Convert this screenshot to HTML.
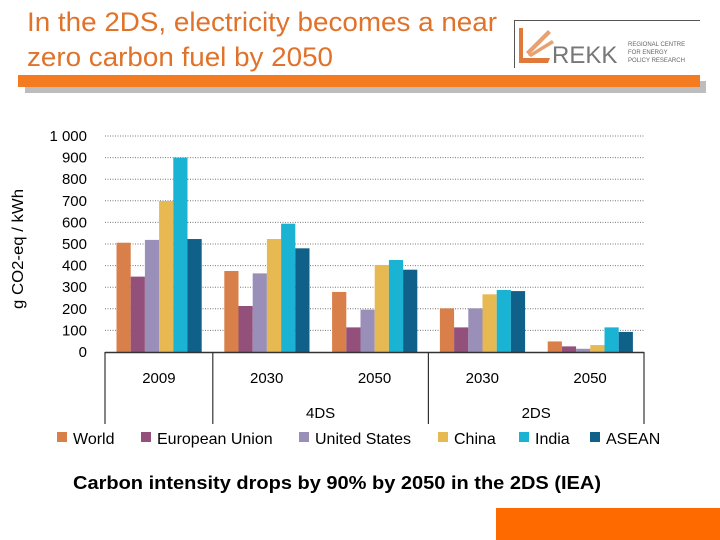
<!DOCTYPE html>
<html><head><meta charset="utf-8"><style>
html,body{margin:0;padding:0;background:#fff;}
body{width:720px;height:540px;position:relative;overflow:hidden;font-family:"Liberation Sans",sans-serif;}
svg{position:absolute;left:0;top:0;}
</style></head><body>
<svg width="720" height="540" viewBox="0 0 720 540">
<text x="27" y="31" font-size="27" fill="#e0722a" textLength="470" lengthAdjust="spacingAndGlyphs">In the 2DS, electricity becomes a near</text>
<text x="27" y="66" font-size="27" fill="#e0722a" textLength="306" lengthAdjust="spacingAndGlyphs">zero carbon fuel by 2050</text>
<g>
<line x1="514.5" y1="20" x2="514.5" y2="68" stroke="#555" stroke-width="1"/>
<line x1="514" y1="20.5" x2="700" y2="20.5" stroke="#555" stroke-width="1"/>
<path d="M519 28 L523 28 L523 58 L550 58 L548 63 L519 63 Z" fill="#e07a3a"/>
<path d="M526 52 L548 30 L551 33 L529 55 Z" fill="#e9a070"/>
<path d="M528 55 L552 40 L554 43 L531 57 Z" fill="#e9a070"/>
<text x="552" y="63" font-size="24" fill="#777">REKK</text>
<text x="628" y="46" font-size="6" fill="#666">REGIONAL CENTRE</text>
<text x="628" y="54" font-size="6" fill="#666">FOR ENERGY</text>
<text x="628" y="62" font-size="6" fill="#666">POLICY RESEARCH</text>
</g>
<rect x="25" y="81" width="681" height="12" fill="#bdbdbd"/>
<rect x="18" y="75" width="682" height="12" fill="#f47b20"/>
<g id="chart"></g>
<text x="73" y="489" font-size="18" font-weight="bold" fill="#000" textLength="528" lengthAdjust="spacingAndGlyphs">Carbon intensity drops by 90% by 2050 in the 2DS (IEA)</text>
<rect x="496" y="508" width="224" height="32" fill="#ff6a00"/>
</svg>
<script>
const categories = ["2009","2030","2050","2030","2050"];
const seriesNames = ["World","European Union","United States","China","India","ASEAN"];
const world = [506,375,278,202,49];
const eu = [349,213,114,114,26];
const us = [519,364,196,202,15];
const china = [699,523,403,267,32];
const india = [900,594,426,287,114];
const asean = [523,480,381,282,93];
const yTicks = [0,100,200,300,400,500,600,700,800,900,1000];
const yTickLabels = ["0","100","200","300","400","500","600","700","800","900","1 000"];
const scenarios = ["4DS","2DS"];

const NS="http://www.w3.org/2000/svg";
const colors=["#d9804a","#93507a","#9a8fb8","#e6b952","#1ab3d3","#0f6189"];
const series=[world,eu,us,china,india,asean];
const g=document.getElementById('chart');
const X0=105,X1=644,Y0=352,Y1=136;
const band=(X1-X0)/categories.length;
const barW=14.2, off=11.5;
function y(v){return Y0-(v/1000)*(Y0-Y1);}
function xBar(c,s){return X0+c*band+off+s*barW;}
function mk(tag,attrs){const e=document.createElementNS(NS,tag);for(const k in attrs)e.setAttribute(k,attrs[k]);g.appendChild(e);return e;}
yTicks.forEach((t,i)=>{
  if(t>0){const l=mk('line',{x1:X0,x2:X1,y1:y(t),y2:y(t),stroke:'#777','stroke-width':1,'stroke-dasharray':'1,1.5'});
  
  }
  const tx=mk('text',{x:87,y:y(t)+5,'font-size':15,'text-anchor':'end',fill:'#000'});
  tx.textContent=yTickLabels[i];
  
  
});
const yt=mk('text',{x:0,y:0,'font-size':16,'text-anchor':'middle',fill:'#000',transform:'translate(23,249) rotate(-90)',textLength:120,lengthAdjust:'spacingAndGlyphs'});
yt.textContent='g CO2-eq / kWh';


series.forEach((arr,s)=>{arr.forEach((v,c)=>{
  const r=mk('rect',{x:xBar(c,s),y:y(v),width:barW,height:Y0-y(v),fill:colors[s]});
  
  
});});
const ax=mk('line',{x1:X0,x2:X1,y1:Y0+0.5,y2:Y0+0.5,stroke:'#333','stroke-width':1.5});


[0,1,3,5].forEach(i=>{const l=mk('line',{x1:X0+i*band,x2:X0+i*band,y1:Y0,y2:424,stroke:'#333','stroke-width':1.2});
  
  });
categories.forEach((c,i)=>{const t=mk('text',{x:X0+(i+0.5)*band,y:383,'font-size':15,'text-anchor':'middle',fill:'#000'});
  t.textContent=c;
  
  });
scenarios.forEach((s,i)=>{const t=mk('text',{x:X0+(1+i*2+1)*band,y:418,'font-size':15,'text-anchor':'middle',fill:'#000'});
  t.textContent=s;
  
  });
const legX=[57,141,299,438,519,590];
seriesNames.forEach((n,i)=>{
  const r=mk('rect',{x:legX[i],y:432,width:10,height:10,fill:colors[i]});
  
  
  const t=mk('text',{x:legX[i]+16,y:444,'font-size':16,fill:'#000'});
  t.textContent=n;
  
  
});
</script>
</body></html>
